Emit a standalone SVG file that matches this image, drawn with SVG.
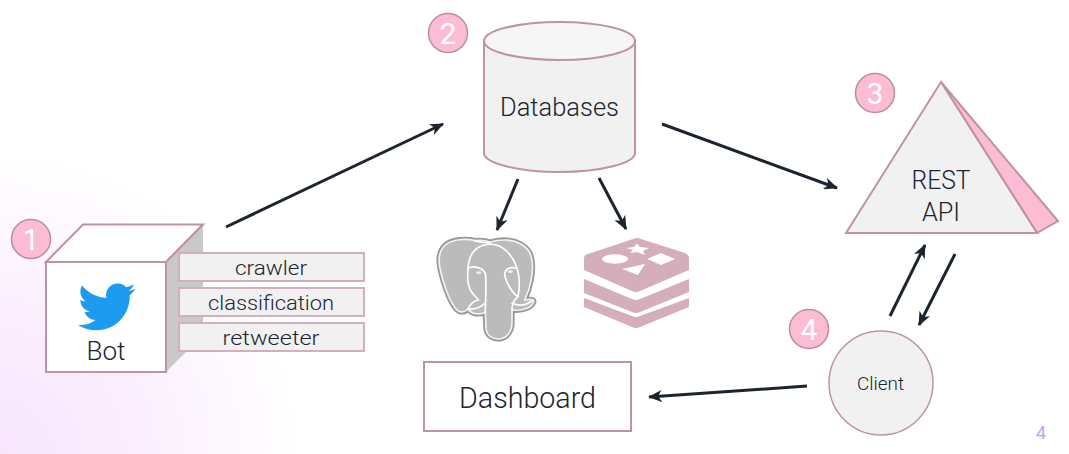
<svg xmlns="http://www.w3.org/2000/svg" width="1069" height="454" viewBox="0 0 1069 454">
<style>
.t{font-family:"Roboto","Liberation Sans",sans-serif;font-weight:300;fill:#20242f;text-anchor:middle}
.b{fill:#fbbcd4;stroke:#b98ea2;stroke-width:1.500}
.bt{font-family:"Roboto","Liberation Sans",sans-serif;font-weight:400;font-size:30px;fill:#fff;text-anchor:middle}
.s{stroke:#bc94a4;stroke-width:2}
.l{fill:#f1f1f1;stroke:#d0b0bc;stroke-width:2}
.c{fill:none;stroke:#1c2430;stroke-width:3;marker-end:url(#a)}
.w{fill:none;stroke:#fff;stroke-width:5;stroke-linecap:round;stroke-linejoin:round}
</style>
<defs>
<radialGradient id="g" gradientUnits="userSpaceOnUse" cx="0" cy="454" r="300">
<stop offset="0" stop-color="#f7e5fd"/><stop offset="0.45" stop-color="#fbeefe"/><stop offset="1" stop-color="#ffffff"/>
</radialGradient>
<marker id="a" viewBox="0 0 14 12" refX="13" refY="6" markerWidth="14" markerHeight="12" markerUnits="userSpaceOnUse" orient="auto">
<path d="M0 0L14 6L0 12L4 6Z" fill="#1c2430"/>
</marker>
<path id="e" d="M130 17C100 10 60 12 40 30C20 48 18 75 25 105C32 140 50 190 65 212C78 235 95 235 108 222C115 235 140 242 160 232L162 280C165 305 185 312 200 312C225 310 240 290 240 262L240 225C265 228 295 222 305 202C308 192 295 192 278 195C295 160 308 105 298 65C288 30 250 15 220 15C200 15 185 18 175 22C160 16 145 15 130 17Z"/>
</defs>
<rect width="1069" height="454" fill="url(#g)"/>
<g id="connectors">
<line class="c" x1="226" y1="227" x2="443" y2="124"/>
<line class="c" x1="518" y1="179" x2="497" y2="230"/>
<line class="c" x1="599" y1="178" x2="626" y2="229"/>
<line class="c" x1="662" y1="124" x2="837" y2="188"/>
<line class="c" x1="890" y1="316" x2="925" y2="245"/>
<line class="c" x1="955" y1="254" x2="919" y2="325"/>
<line class="c" x1="807" y1="386" x2="649" y2="397"/>
</g>
<g id="bot">
<path d="M46 262L83 224.500H203L166 262Z" fill="#fff" class="s"/>
<path d="M166 262L203 224.500V335L166 372Z" fill="#c9c9c9"/>
<path d="M166 262L203 224.500" fill="none" class="s"/>
<rect x="46" y="262" width="120" height="110" fill="#fff" class="s"/>
<path transform="translate(78 278) scale(2.4)" fill="#1d9bf0" d="M23.953 4.570a10 10 0 01-2.825.775 4.958 4.958 0 002.163-2.723c-.951.555-2.005.959-3.127 1.184a4.920 4.920 0 00-8.384 4.482C7.690 8.095 4.067 6.130 1.640 3.162a4.822 4.822 0 00-.666 2.475c0 1.710.870 3.213 2.188 4.096a4.904 4.904 0 01-2.228-.616v.060a4.923 4.923 0 003.946 4.827 4.996 4.996 0 01-2.212.085 4.936 4.936 0 004.604 3.417 9.867 9.867 0 01-6.102 2.105c-.390 0-.779-.023-1.170-.067a13.995 13.995 0 007.557 2.209c9.053 0 13.998-7.496 13.998-13.985 0-.210 0-.420-.015-.630A9.935 9.935 0 0024 4.590z"/>
<text class="t" x="106" y="360" font-size="26" textLength="39" lengthAdjust="spacingAndGlyphs">Bot</text>
</g>
<g id="crawler"><rect class="l" x="179" y="253" width="185" height="28"/><text class="t" x="271" y="275" font-size="21" textLength="72" lengthAdjust="spacingAndGlyphs">crawler</text></g>
<g id="classification"><rect class="l" x="179" y="288" width="185" height="28"/><text class="t" x="271" y="310" font-size="21" textLength="126" lengthAdjust="spacingAndGlyphs">classification</text></g>
<g id="retweeter"><rect class="l" x="179" y="323" width="185" height="28"/><text class="t" x="271" y="345" font-size="21" textLength="97" lengthAdjust="spacingAndGlyphs">retweeter</text></g>
<g id="databases">
<path d="M484 41V153C484 163 518 172 559.500 172S635 163 635 153V41Z" fill="#f1f1f1" class="s"/>
<ellipse cx="559.500" cy="41" rx="75.500" ry="19" fill="#f6f6f6" class="s"/>
<text class="t" x="559.500" y="116" font-size="26" textLength="119" lengthAdjust="spacingAndGlyphs">Databases</text>
</g>
<g id="postgres" transform="translate(432 235) scale(.3333)">
<use href="#e" fill="#bbb" stroke="#999" stroke-width="16" stroke-linejoin="round"/>
<use href="#e" fill="#bbb" stroke="#f2f2f2" stroke-width="5" stroke-linejoin="round"/>
<path class="w" d="M128 18C150 22 172 24 175 24"/>
<path class="w" d="M108 100C110 60 130 30 170 28C210 24 245 60 258 110C265 140 262 165 258 185"/>
<path class="w" d="M108 100C105 130 108 160 122 175L137 192"/>
<path class="w" d="M108 100C120 92 150 95 160 115C165 150 160 200 160 232"/>
<path class="w" d="M255 100C235 95 222 100 218 115C218 135 240 175 258 185"/>
<path class="w" d="M258 185C245 195 240 210 240 225"/>
<path class="w" d="M108 222C115 205 130 195 140 195"/>
<path class="w" d="M108 222C130 225 150 215 158 205"/>
<path class="w" d="M240 205C262 215 285 210 303 195"/>
<ellipse cx="140" cy="113" rx="8" ry="4" fill="#eee"/>
<ellipse cx="235" cy="110" rx="8" ry="4" fill="#eee"/>
</g>
<g id="redis">
<path d="M584 258Q584 255 588 254L633 239Q637 237 641 239L685 253Q689 255 689 258V270L640 291Q636 293 632 291L584 270Z" fill="#d4aeba"/>
<path d="M584 279L632 299Q636 301 640 299L689 279V292L640 312Q636 314 632 312L584 293Z" fill="#d4aeba"/>
<path d="M584 298L632 316Q636 318 640 316L689 298V307L640 327Q636 329 632 327L584 307Z" fill="#d4aeba"/>
<ellipse cx="615" cy="259" rx="13" ry="4.700" fill="#fff"/>
<path d="M637 243.500L640 247L649 248L643 251L645 255L637 252L630 253L633 250L626 248L634 247Z" fill="#fff"/>
<path d="M661 253L675 259L661 265L647 259Z" fill="#fff"/>
<path d="M622 269L645 264L638 275Z" fill="#fff"/>
</g>
<g id="rest-api">
<path d="M941 82L1058 221L1037 233Z" fill="#fbbcd4" class="s"/>
<path d="M941 82L1037 233H846Z" fill="#f1f1f1" class="s"/>
<text class="t" x="941" y="189" font-size="26" textLength="59" lengthAdjust="spacingAndGlyphs">REST</text>
<text class="t" x="941" y="221" font-size="26" textLength="38" lengthAdjust="spacingAndGlyphs">API</text>
</g>
<g id="client">
<circle cx="881" cy="383" r="52" fill="#f1f1f1" stroke="#bc94a4" stroke-width="1.500"/>
<text class="t" x="880.500" y="390" font-size="18" textLength="47" lengthAdjust="spacingAndGlyphs">Client</text>
</g>
<g id="dashboard">
<rect x="424" y="362" width="207" height="69" fill="#fff" class="s"/>
<text class="t" x="527.500" y="408" font-size="30" textLength="137" lengthAdjust="spacingAndGlyphs">Dashboard</text>
</g>
<g id="badge-1"><circle class="b" cx="31" cy="239" r="19.500"/><text class="bt" x="31" y="250">1</text></g>
<g id="badge-2"><circle class="b" cx="448" cy="33" r="19.500"/><text class="bt" x="448" y="44">2</text></g>
<g id="badge-3"><circle class="b" cx="875" cy="93" r="19.500"/><text class="bt" x="875" y="104">3</text></g>
<g id="badge-4"><circle class="b" cx="809" cy="329" r="19.500"/><text class="bt" x="809" y="340">4</text></g>
<text x="1041" y="439" font-family="Roboto, 'Liberation Sans', sans-serif" font-weight="400" font-size="18" fill="#c4a0f0" text-anchor="middle">4</text>
</svg>
